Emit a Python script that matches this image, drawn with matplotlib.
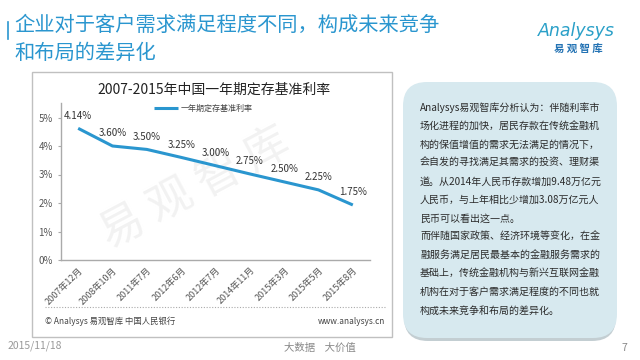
import matplotlib
matplotlib.use("Agg")
import matplotlib.pyplot as plt
from matplotlib.patches import Rectangle, FancyBboxPatch
from matplotlib.lines import Line2D

plt.rcParams['font.family'] = ['Noto Sans CJK SC', 'DejaVu Sans']

W, H = 640, 360

# data
periods = ["2007年12月", "2008年10月", "2011年7月", "2012年6月", "2012年7月",
           "2014年11月", "2015年3月", "2015年5月", "2015年8月"]
# line heights as drawn in the source chart (axis units, %)
line_values = [4.62, 4.00, 3.88, 3.60, 3.31, 3.02, 2.74, 2.46, 1.93]
rate_labels = ["4.14%", "3.60%", "3.50%", "3.25%", "3.00%",
               "2.75%", "2.50%", "2.25%", "1.75%"]
y_ticks = [0, 1, 2, 3, 4, 5]
y_tick_labels = ["0%", "1%", "2%", "3%", "4%", "5%"]

panel_lines = [
    "Analysys易观智库分析认为：伴随利率市",
    "场化进程的加快，居民存款在传统金融机",
    "构的保值增值的需求无法满足的情况下，",
    "会自发的寻找满足其需求的投资、理财渠",
    "道。从2014年人民币存款增加9.48万亿元",
    "人民币，与上年相比少增加3.08万亿元人",
    "民币可以看出这一点。",
    "而伴随国家政策、经济环境等变化，在金",
    "融服务满足居民最基本的金融服务需求的",
    "基础上，传统金融机构与新兴互联网金融",
    "机构在对于客户需求满足程度的不同也就",
    "构成未来竞争和布局的差异化。",
]

BLUE = "#2a96cf"
GRAY = "#555555"

fig = plt.figure(figsize=(W / 100, H / 100), dpi=100)
fig.patch.set_facecolor("white")


def fx(x):
    return x / W


def fy(y):
    return 1 - y / H


# page title
fig.add_artist(Line2D([fx(8), fx(8)], [fy(22), fy(39)], color=BLUE, lw=1.2))
fig.text(fx(14), fy(25), "企业对于客户需求满足程度不同，构成未来竞争",
         fontsize=14.6, color=BLUE, va="center", ha="left")
fig.text(fx(14), fy(53), "和布局的差异化",
         fontsize=14.6, color=BLUE, va="center", ha="left")

# logo
fig.text(fx(576), fy(31), "Analysys", fontsize=12.5, color="#2aa0c8",
         style="italic", ha="center", va="center", family=["DejaVu Sans"])
fig.text(fx(578), fy(49), "易 观 智 库", fontsize=7.5, color="#2473b4",
         ha="center", va="center", weight="bold")

# chart frame
fig.add_artist(Rectangle((fx(32), fy(337)), fx(392) - fx(32), fy(72) - fy(337),
                         transform=fig.transFigure, facecolor="white",
                         edgecolor="#c0c0c0", lw=1.0, zorder=-2))

# watermark
fig.text(fx(195), fy(188), "易 观 智 库", fontsize=32, color="#f2f2f2",
         rotation=28, ha="center", va="center", zorder=-1)

# axes
ax_left, ax_right, ax_bottom = 61, 370, 260
px_per_unit = 28.5
ymax = 5.5
ax = fig.add_axes([fx(ax_left), fy(ax_bottom), (ax_right - ax_left) / W,
                   ymax * px_per_unit / H])
ax.set_zorder(1)
ax.patch.set_alpha(0)
x = list(range(len(periods)))
ax.plot(x, line_values, color=BLUE, lw=2.2, label="一年期定存基准利率",
        solid_capstyle="butt")
for xi, yi, lab in zip(x, line_values, rate_labels):
    ax.annotate(lab, (xi, yi), xytext=(0, 9), textcoords="offset points",
                ha="center", va="center", fontsize=7, color="#333333")
ax.set_xlim(-0.5, len(periods) - 0.5)
ax.set_ylim(0, ymax)
ax.set_yticks(y_ticks)
ax.set_yticklabels(y_tick_labels, fontsize=7, color=GRAY)
ax.set_xticks(x)
ax.set_xticklabels(periods, rotation=45, ha="right", rotation_mode="anchor",
                   fontsize=6.5, color=GRAY)
ax.tick_params(axis="x", length=0, pad=4)
ax.tick_params(axis="y", length=2, color="#aaaaaa", pad=4)
for s in ["top", "right"]:
    ax.spines[s].set_visible(False)
for s in ["left", "bottom"]:
    ax.spines[s].set_color("#aaaaaa")
    ax.spines[s].set_linewidth(1.0)

fig.text(fx(214), fy(90), "2007-2015年中国一年期定存基准利率", fontsize=10,
         color="#222222", ha="center", va="center")
ax.legend(loc="center", bbox_to_anchor=(fx(203), fy(108)),
          bbox_transform=fig.transFigure, frameon=False, fontsize=5.8,
          handlelength=3, handletextpad=0.3, labelcolor="#444444")

# source line
fig.add_artist(Line2D([fx(45), fx(385)], [fy(307), fy(307)], color="#aaaaaa",
                      lw=0.8, ls=(0, (1, 1.5))))
fig.text(fx(45), fy(321), "© Analysys 易观智库 中国人民银行", fontsize=6,
         color="#444444", ha="left", va="center")
fig.text(fx(385), fy(321), "www.analysys.cn", fontsize=6,
         color="#444444", ha="right", va="center")

# right panel
shadow = FancyBboxPatch((404, H - 341), 212, 254,
                        boxstyle="round,pad=0,rounding_size=24",
                        transform=None, facecolor="#c3ced2", edgecolor="none")
fig.add_artist(shadow)
panel = FancyBboxPatch((403, H - 338), 214, 256,
                       boxstyle="round,pad=0,rounding_size=24",
                       transform=None, facecolor="#d7e9ef", edgecolor="none")
fig.add_artist(panel)
for i, line in enumerate(panel_lines):
    fig.text(fx(420), fy(108 + i * 18.4), line, fontsize=7.2,
             color="#2b2b2b", ha="left", va="center")

# footer
fig.text(fx(8), fy(346), "2015/11/18", fontsize=7.5, color="#999999",
         ha="left", va="center")
fig.text(fx(320), fy(348), "大数据    大价值", fontsize=7.5, color="#888888",
         ha="center", va="center")
fig.text(fx(624), fy(348), "7", fontsize=7.5, color="#888888",
         ha="center", va="center")

fig.savefig("out.png", dpi=100)
